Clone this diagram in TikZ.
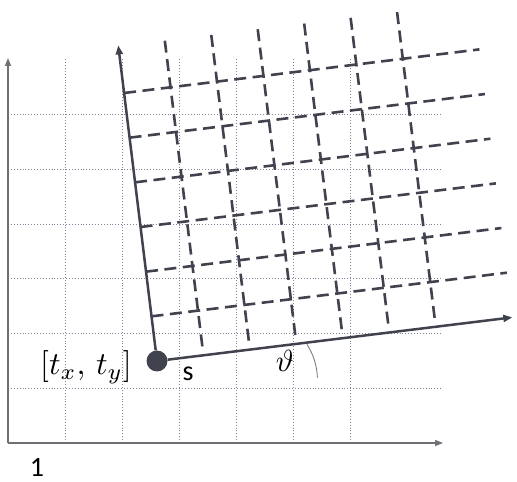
\documentclass[tikz,border=0pt]{standalone}
\usepackage{fontspec}
\setsansfont{Carlito}
\usetikzlibrary{arrows.meta}
\definecolor{framegray}{RGB}{64,66,78}
\definecolor{axisgray}{RGB}{112,112,118}
\definecolor{gridgray}{RGB}{130,130,152}

\begin{document}
\begin{tikzpicture}[x=1pt,y=1pt,
    gridline/.style={gridgray,line width=0.9pt,dotted},
    axisline/.style={axisgray,line width=1.4pt,-{Triangle[length=8pt,width=6pt]}},
    frameaxis/.style={framegray,line width=2.5pt,-{Triangle[length=9pt,width=7pt]}},
    framegrid/.style={framegray,line width=2.6pt,dash pattern=on 12pt off 6.5pt},
    lbl/.style={inner sep=0pt,font=\fontsize{28}{32}\selectfont\sffamily},
    mathlbl/.style={inner sep=0pt,scale=2.9}]
    \useasboundingbox (0,0) rectangle (517,482);

    % Fixed grid
    \foreach \i in {1,...,6} {
        \draw[gridline] (8+57*\i,39) -- (8+57*\i,424);
        \draw[gridline] (8,39+54.7*\i) -- (443,39+54.7*\i);
    }
    \coordinate (o) at (8,39);
    \coordinate (xend) at (443,39);
    \coordinate (yend) at (8,424);
    \draw[axisline] (o) -- (xend);
    \draw[axisline] (o) -- (yend);

    % Moved frame
    \begin{scope}[shift={(157,121)},rotate=7]
        \foreach \k in {1,...,6} {
            \draw[framegrid] (0,45*\k) -- (358,45*\k);
            \draw[framegrid] (46.8*\k,9) -- (46.8*\k,318);
        }
        \coordinate (s) at (0,0);
        \coordinate (sx) at (358,0);
        \coordinate (sy) at (0,318);
    \end{scope}
    \node[circle,fill=framegray,minimum size=21pt,inner sep=0pt] (dot) at (s) {};
    \draw[frameaxis] (dot) -- (sx);
    \draw[frameaxis] (dot) -- (sy);

    % Angle
    \coordinate (arcstart) at (306.9,137.7);
    \draw[axisgray,line width=0.8pt] (arcstart) arc[start angle=33,end angle=2,radius=65.5];

    % Labels
    \node[mathlbl,scale=1.1] (txy) at (86,115) {$[t_x,\, t_y]$};
    \node[lbl] (slbl) at (188,108) {s};
    \node[mathlbl,scale=1.05] (theta) at (285,121) {$\vartheta$};
    \node[lbl] (one) at (37,15) {1};
\end{tikzpicture}
\end{document}
